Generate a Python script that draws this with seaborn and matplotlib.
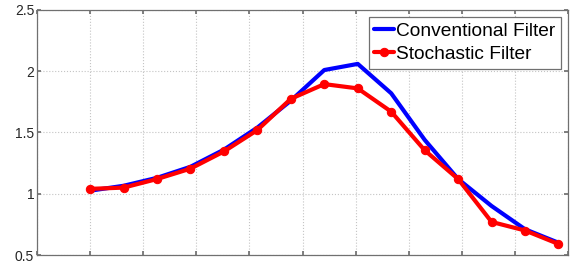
import matplotlib
matplotlib.use("Agg")
import matplotlib.pyplot as plt
import seaborn as sns
import pandas as pd

x_vals = [1.0, 1.63, 2.26, 2.89, 3.52, 4.15, 4.78, 5.41, 6.04, 6.67, 7.30, 7.93, 8.56, 9.19, 9.82]
conventional = [1.025, 1.065, 1.13, 1.22, 1.36, 1.54, 1.76, 2.01, 2.06, 1.82, 1.44, 1.12, 0.90, 0.71, 0.60]
stochastic = [1.04, 1.05, 1.12, 1.205, 1.345, 1.52, 1.775, 1.895, 1.86, 1.67, 1.355, 1.12, 0.77, 0.70, 0.59]
series_names = ["Conventional Filter", "Stochastic Filter"]
y_ticks = [0.5, 1, 1.5, 2, 2.5]
y_tick_labels = ["0.5", "1", "1.5", "2", "2.5"]

df = pd.DataFrame({
    "x": x_vals * 2,
    "y": conventional + stochastic,
    "series": [series_names[0]] * len(x_vals) + [series_names[1]] * len(x_vals),
})

sns.set_theme(style="white")
plt.rcParams["font.family"] = ["Liberation Sans", "DejaVu Sans"]

fig = plt.figure(figsize=(5.79, 2.68), dpi=100)
ax = fig.add_axes([0.0639, 0.0485, 0.9172, 0.9142])

sns.lineplot(data=df[df.series == series_names[0]], x="x", y="y", ax=ax,
             color="#0000FF", linewidth=3.0, label=series_names[0])
sns.lineplot(data=df[df.series == series_names[1]], x="x", y="y", ax=ax,
             color="#FF0000", linewidth=3.0, marker="o", markersize=6,
             markeredgecolor="#FF0000", label=series_names[1])

ax.set_xlim(0, 10)
ax.set_ylim(0.5, 2.5)
ax.set_xticks(range(0, 11))
ax.set_xticklabels([])
ax.set_yticks(y_ticks)
ax.set_yticklabels(y_tick_labels)
ax.set_xlabel("")
ax.set_ylabel("")
ax.grid(True, linestyle=":", color="#c4c4c4", linewidth=0.8)
for s in ax.spines.values():
    s.set_color("#707070")
    s.set_linewidth(0.9)
ax.tick_params(axis="both", direction="in", length=3, color="#707070",
               top=True, right=True, bottom=True, left=True,
               labelsize=10, labelcolor="#262626", pad=2)

leg = ax.legend(loc="upper right", fontsize=13.8, handlelength=1.05,
                handletextpad=0.1, borderpad=0.3, labelspacing=0.3,
                borderaxespad=0.35, frameon=True, fancybox=False,
                edgecolor="#707070", framealpha=1)
leg.get_frame().set_linewidth(0.9)
for t in leg.get_texts():
    t.set_color("black")

fig.savefig("out.png", dpi=100)
